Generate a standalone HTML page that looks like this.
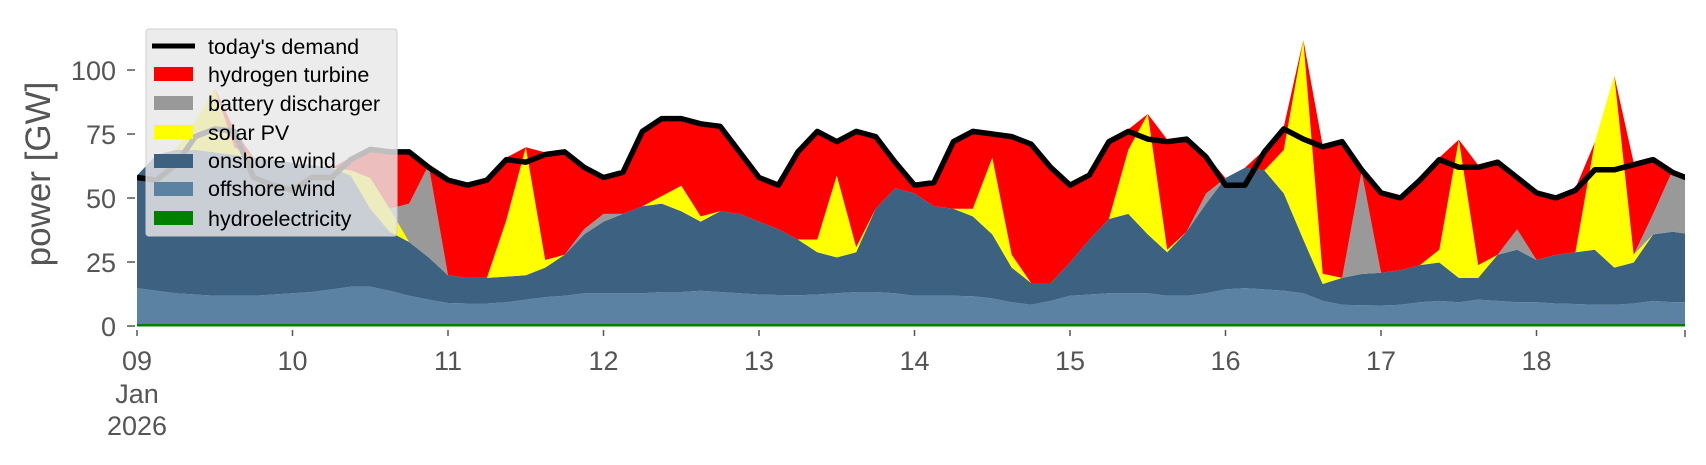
<!DOCTYPE html>
<html><head><meta charset="utf-8"><style>
html,body{margin:0;padding:0;background:#fff;}
svg text{font-family:"Liberation Sans","DejaVu Sans",sans-serif;}
</style></head><body>
<svg id="chart" width="1706" height="460" viewBox="0 0 1706 460" xmlns="http://www.w3.org/2000/svg">
<defs><clipPath id="plotclip"><rect x="137" y="0" width="1548" height="327"/></clipPath></defs>
<g id="areas" clip-path="url(#plotclip)"></g>
<g id="axes"></g>
<text transform="translate(50,174) rotate(-90)" text-anchor="middle" font-size="35" fill="#555">power [GW]</text>
<g>
<rect x="146" y="29" width="251" height="207" rx="3" fill="rgba(232,232,232,0.82)" stroke="#cfcfcf" stroke-width="1"/>
<line x1="152" y1="46" x2="195" y2="46" stroke="#000" stroke-width="5"/>
<text x="208" y="54" font-size="21.5" fill="#000">today's demand</text>
<rect x="154" y="67" width="39" height="14" fill="#ff0000"/>
<text x="208" y="82" font-size="21.5" fill="#000">hydrogen turbine</text>
<rect x="154" y="96" width="39" height="14" fill="#999999"/>
<text x="208" y="111" font-size="21.5" fill="#000">battery discharger</text>
<rect x="154" y="125" width="39" height="14" fill="#ffff00"/>
<text x="208" y="140" font-size="21.5" fill="#000">solar PV</text>
<rect x="154" y="154" width="39" height="14" fill="#3c6181"/>
<text x="208" y="168" font-size="21.5" fill="#000">onshore wind</text>
<rect x="154" y="182" width="39" height="14" fill="#5b82a3"/>
<text x="208" y="196" font-size="21.5" fill="#000">offshore wind</text>
<rect x="154" y="211" width="39" height="14" fill="#008000"/>
<text x="208" y="226" font-size="21.5" fill="#000">hydroelectricity</text>
</g>
</svg>
<script>
// 3-hourly samples starting 09 Jan 00:00 (81 points, last = 19 Jan 00:00)
const hydro = Array(81).fill(0.8);
const offshore = [14,13,12,11.5,11,11,11,11.5, 12,12.5,13.5,14.5,14.5,13,11,9.5, 8.2,8,8,8.5,9.5,10.5,11,12, 12,12,12,12.5,12.5,13,12.5,12, 11.5,11.3,11.2,11.5,12,12.5,12.5,12, 11,11,11,10.8,10,8.5,7.5,9, 11,11.5,12,12,12,11,11,12, 13.5,14,13.5,13,12,9,7.5,7.3, 7.2,7.5,8.5,9,8.5,9.5,9,8.5, 8.5,8,7.8,7.5,7.5,8,9,8.5, 8.5];
const onshore = [44,53,56,56.5,56,55,54,52.5, 51,49.5,47.5,43.5,30.5,23,21,16.5, 10.8,10,10,10,9.5,11.5,16,23, 28,31,34,34.5,31.5,27,31.5,31, 28.5,25.7,21.8,16.5,14,15.5,32.5,41, 40,35,34,31.2,25,13.5,8.5,7, 13,21.5,29,31,23,17,25,35, 43.5,47,46.5,38,21,6.6,10.5,12.2, 12.8,13.5,14.5,15,9.5,8.5,18,20.5, 16.5,19,20.2,21.5,14.5,16,26,27.5, 26.5];
const solar = [0,0,0,11,25,3,0,0, 0,0,0,2,12,9,0,0, 0,0,0,22,50,3,0,0, 0,0,0,3,10,2,0,0, 0,0,0,5,32,2,0,0, 0,0,0,3,30,5,0,0, 0,0,0,25,47,1,0,0, 0,0,0,17,78,4,0,0, 0,0,0,5,54,5,0,0, 0,0,0,42,75,3,0,0, 0];
const battery = [0,0,0,0,0,0,0,0, 0,0,0,0,0,0,15,36, 0,0,0,0,0,0,0,2, 3,0,0,0,0,0,0,0, 0,0,0,0,0,0,0,0, 0,0,0,0,0,0,0,0, 0,0,0,0,0,0,0,4, 0,0,0,0,0,0,0,40, 0,0,0,0,0,0,0,8, 0,0,0,0,0,0,8,24, 22];
const hydrogen = [0,0,0,0,0,7,0,0, 0,0,0,5,12,23,21,0, 38,37,39,24.5,0,42,41,25, 15,17,30,31,27,37,34,25, 18,18,35,43,14,46,29,11, 4,10,27,31,10,47,55,46, 31,26,31,8,0,43,37,15, 0,0,8,9,0,50,54,1.5, 32,29,34,36,0,39,37,21, 27,23,25,0,0,36,22,0, 0];
const demand = [58,57,63,74,77,76,58,55, 53,58,58,65,69,68,68,62, 57,55,57,65,64,67,68,62, 58,60,76,81,81,79,78,68, 58,55,68,76,72,76,74,64, 55,56,72,76,75,74,71,62, 55,59,72,76,73,72,73,66, 55,55,68,77,73,70,72,61, 52,50,57,65,62,62,64,58, 52,50,53,61,61,63,65,60, 57];
const dayTicks = ["09","10","11","12","13","14","15","16","17","18"];
const yTicks = [0,25,50,75,100];

const NS = "http://www.w3.org/2000/svg";
const X0 = 137, PXDAY = 155.5, Y0 = 326, PXGW = 2.56;
function xScale(day){ return X0 + day * PXDAY; }
function yScale(v){ return Y0 - v * PXGW; }
function tOf(i){ return i * 3 / 24; }

const areas = document.getElementById('areas');
const axes = document.getElementById('axes');
const series = [
  {vals: hydro, color: '#008000', name: 'area-hydroelectricity'},
  {vals: offshore, color: '#5b82a3', name: 'area-offshore-wind'},
  {vals: onshore, color: '#3c6181', name: 'area-onshore-wind'},
  {vals: solar, color: '#ffff00', name: 'area-solar-pv'},
  {vals: battery, color: '#999999', name: 'area-battery-discharger'},
  {vals: hydrogen, color: '#ff0000', name: 'area-hydrogen-turbine'}
];
const n = demand.length;
let base = Array(n).fill(0);
series.forEach(s => {
  const top = base.map((b, i) => b + s.vals[i]);
  let pts = [];
  for (let i = 0; i < n; i++) pts.push(xScale(tOf(i)).toFixed(1) + ',' + yScale(top[i]).toFixed(1));
  for (let i = n - 1; i >= 0; i--) pts.push(xScale(tOf(i)).toFixed(1) + ',' + yScale(base[i]).toFixed(1));
  const p = document.createElementNS(NS, 'polygon');
  p.setAttribute('points', pts.join(' '));
  p.setAttribute('fill', s.color);
  
  
  areas.appendChild(p);
  base = top;
});
const gl = document.createElementNS(NS, 'line');
gl.setAttribute('x1', X0); gl.setAttribute('x2', 1685);
gl.setAttribute('y1', Y0 - 0.5); gl.setAttribute('y2', Y0 - 0.5);
gl.setAttribute('stroke', '#008000'); gl.setAttribute('stroke-width', '2');


areas.appendChild(gl);
let dpts = [];
for (let i = 0; i < n; i++) dpts.push(xScale(tOf(i)).toFixed(1) + ',' + yScale(demand[i]).toFixed(1));
const dl = document.createElementNS(NS, 'polyline');
dl.setAttribute('points', dpts.join(' '));
dl.setAttribute('fill', 'none');
dl.setAttribute('stroke', '#000');
dl.setAttribute('stroke-width', '5.5');
dl.setAttribute('stroke-linejoin', 'round');


areas.appendChild(dl);

yTicks.forEach(v => {
  const y = yScale(v);
  const tk = document.createElementNS(NS, 'line');
  tk.setAttribute('x1', 127); tk.setAttribute('x2', 135);
  tk.setAttribute('y1', y); tk.setAttribute('y2', y);
  tk.setAttribute('stroke', '#555'); tk.setAttribute('stroke-width', '1.5');
  
  
  axes.appendChild(tk);
  const tx = document.createElementNS(NS, 'text');
  tx.setAttribute('x', 116); tx.setAttribute('y', y + 10);
  tx.setAttribute('text-anchor', 'end'); tx.setAttribute('font-size', '27');
  tx.setAttribute('fill', '#555');
  tx.textContent = v;
  
  
  axes.appendChild(tx);
});
dayTicks.forEach((d, i) => {
  const x = xScale(i);
  const tk = document.createElementNS(NS, 'line');
  tk.setAttribute('x1', x); tk.setAttribute('x2', x);
  tk.setAttribute('y1', 330); tk.setAttribute('y2', 336);
  tk.setAttribute('stroke', '#555'); tk.setAttribute('stroke-width', '1.5');
  
  
  axes.appendChild(tk);
  const tx = document.createElementNS(NS, 'text');
  tx.setAttribute('x', x); tx.setAttribute('y', 370);
  tx.setAttribute('text-anchor', 'middle'); tx.setAttribute('font-size', '27');
  tx.setAttribute('fill', '#555');
  tx.textContent = d;
  
  
  axes.appendChild(tx);
});
const endTk = document.createElementNS(NS, 'line');
endTk.setAttribute('x1', 1685); endTk.setAttribute('x2', 1685);
endTk.setAttribute('y1', 330); endTk.setAttribute('y2', 337);
endTk.setAttribute('stroke', '#555'); endTk.setAttribute('stroke-width', '1.5');


axes.appendChild(endTk);
[['Jan', 403], ['2026', 435]].forEach(([t, y]) => {
  const tx = document.createElementNS(NS, 'text');
  tx.setAttribute('x', xScale(0)); tx.setAttribute('y', y);
  tx.setAttribute('text-anchor', 'middle'); tx.setAttribute('font-size', '27');
  tx.setAttribute('fill', '#555');
  tx.textContent = t;
  
  
  axes.appendChild(tx);
});
</script>
</body></html>
